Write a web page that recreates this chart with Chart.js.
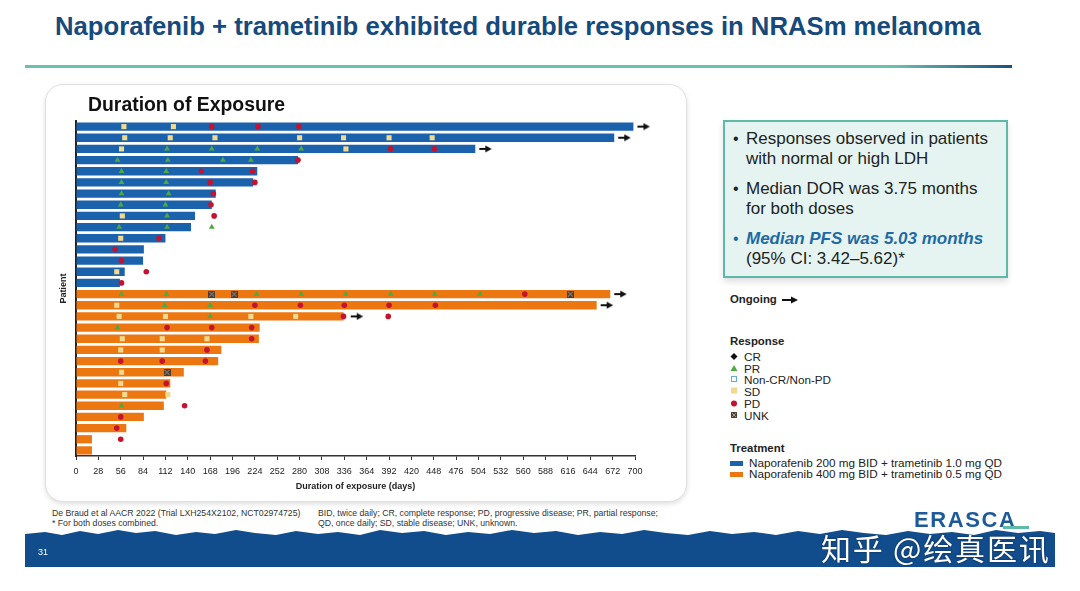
<!DOCTYPE html>
<html>
<head>
<meta charset="utf-8">
<script src="https://cdn.jsdelivr.net/npm/chart.js@4"></script>
<style>
body { margin: 0; background: #fff; font-family: "Liberation Sans", Arial, sans-serif; }
#slide { position: relative; width: 1080px; height: 591px; overflow: hidden; background: #fff; }
.abs { position: absolute; white-space: nowrap; }
#title { left: 55px; top: 12px; font-size: 25.7px; font-weight: bold; color: #174a7c; }
#rule { left: 25px; top: 65px; width: 987px; height: 3px; background: linear-gradient(to right, #6cc0b0 0%, #6cc0b0 88%, #1b4f80 100%); }
#card { left: 45px; top: 84px; width: 640px; height: 416px; border: 1px solid #e0e0e0; border-radius: 18px; box-shadow: 0 2px 5px rgba(0,0,0,0.13); background: #fff; }
#chartTitle { left: 88px; top: 93px; font-size: 19.4px; font-weight: bold; color: #111; }
#wrap { left: 45px; top: 85px; width: 641px; height: 415px; }
#callout { left: 723px; top: 120px; width: 281px; height: 154px; background: #e5f4f1; border: 2px solid #5fb9a9; box-shadow: 0 4px 6px rgba(0,0,0,0.12); }
.bl { position: absolute; left: 21px; font-size: 17px; line-height: 20px; color: #222; }
.dot { position: absolute; left: 8px; font-size: 16px; line-height: 20px; color: #222; }
.lg { font-size: 11.7px; color: #222; line-height: 11.7px; }
.lgh { font-size: 11.4px; font-weight: bold; color: #222; }
.note { font-size: 8.7px; color: #333; line-height: 10px; }
</style>
</head>
<body>
<div id="slide">
  <div id="title" class="abs">Naporafenib + trametinib exhibited durable responses in NRASm melanoma</div>
  <div id="rule" class="abs"></div>
  <div id="card" class="abs"></div>
  <div id="wrap" class="abs"><canvas id="chart" width="641" height="415"></canvas></div>
  <div id="chartTitle" class="abs">Duration of Exposure</div>

  <div id="callout" class="abs">
    <div class="dot" style="top:7px">•</div>
    <div class="bl" style="top:7px">Responses observed in patients<br>with normal or high LDH</div>
    <div class="dot" style="top:57px">•</div>
    <div class="bl" style="top:57px">Median DOR was 3.75 months<br>for both doses</div>
    <div class="dot" style="top:107px;color:#1f6aa5">•</div>
    <div class="bl" style="top:107px"><b style="color:#1f6aa5;font-style:italic">Median PFS was 5.03 months</b><br>(95% CI: 3.42–5.62)*</div>
  </div>

  <div class="abs lgh" style="left:730px;top:293px">Ongoing</div>
  <svg class="abs" style="left:782px;top:296px" width="16" height="8"><line x1="0" y1="4" x2="10" y2="4" stroke="#111" stroke-width="2"/><polygon points="9,0.5 16,4 9,7.5" fill="#111"/></svg>

  <div class="abs lgh" style="left:730px;top:335px">Response</div>
  <svg class="abs" style="left:730px;top:352px" width="12" height="70">
    <polygon points="4,1 7.5,4.5 4,8 0.5,4.5" fill="#111"/>
    <polygon points="4,13 7.5,19 0.5,19" fill="#4fa844"/>
    <rect x="1.5" y="24.5" width="5" height="5" fill="none" stroke="#6aa9d8" stroke-width="1"/>
    <rect x="1" y="35.5" width="6" height="6" fill="#f2d98f"/>
    <circle cx="4" cy="51.5" r="3" fill="#c4122f"/>
    <rect x="1" y="60" width="6" height="6" fill="#4a3b33"/>
    <path d="M1.8,60.8 L6.2,65.2 M6.2,60.8 L1.8,65.2" stroke="#b8a898" stroke-width="0.9"/>
  </svg>
  <div class="abs lg" style="left:744px;top:351px">CR<br>PR<br>Non-CR/Non-PD<br>SD<br>PD<br>UNK</div>

  <div class="abs lgh" style="left:730px;top:442px">Treatment</div>
  <div class="abs" style="left:730px;top:461px;width:13px;height:5px;background:#1a62ac"></div>
  <div class="abs" style="left:730px;top:472px;width:13px;height:5px;background:#ec7711"></div>
  <div class="abs lg" style="left:749px;top:457px;line-height:11px">Naporafenib 200 mg BID + trametinib 1.0 mg QD<br>Naporafenib 400 mg BID + trametinib 0.5 mg QD</div>

  <div class="abs note" style="left:52px;top:508px">De Braud et al AACR 2022 (Trial LXH254X2102, NCT02974725)<br>* For both doses combined.</div>
  <div class="abs note" style="left:318px;top:508px">BID, twice daily; CR, complete response; PD, progressive disease; PR, partial response;<br>QD, once daily; SD, stable disease; UNK, unknown.</div>

  <svg class="abs" style="left:0;top:0" width="1080" height="591">
    <polygon fill="#114c8c" points="25,567 25,534 45,532 62,535 80,531 98,534 118,530 136,533 155,531 176,535 196,532 215,534 236,530 255,533 276,535 296,531 318,534 338,532 360,535 380,530 402,533 424,531 446,535 468,532 490,534 512,530 534,533 556,531 578,535 600,532 622,534 644,530 666,533 688,535 710,531 732,534 754,532 776,535 798,531 820,534 842,530 864,533 886,535 908,531 930,534 952,532 974,535 996,530 1018,533 1040,531 1055,533 1055,567"/>
  </svg>
  <div class="abs" style="left:38px;top:547px;font-size:9px;color:#fff">31</div>
  <div class="abs" style="left:914px;top:507px;font-size:22px;font-weight:bold;color:#1d5a99;letter-spacing:1.6px">ERASCA</div>
  <div class="abs" style="left:1003px;top:526px;width:26px;height:2.5px;background:#5fb9a9"></div>
  <div class="abs" style="left:821px;top:525px;font-size:30px;letter-spacing:1.8px;color:#fff;font-family:'Noto Sans CJK SC',sans-serif;text-shadow:0 0 2px rgba(0,0,0,0.5)">知乎 @绘真医讯</div>
</div>

<script>
// patients top to bottom (1-15: 200 mg BID, 16-30: 400 mg BID)
var patients = ['1', '2', '3', '4', '5', '6', '7', '8', '9', '10', '11', '12', '13', '14', '15',
  '16', '17', '18', '19', '20', '21', '22', '23', '24', '25', '26', '27', '28', '29', '30']

// duration of exposure, days
var dose200Days = [698, 674, 500, 278, 227, 222, 175, 170, 149, 144, 112, 85, 84, 61, 55,
  null, null, null, null, null, null, null, null, null, null, null, null, null, null, null]
var dose400Days = [null, null, null, null, null, null, null, null, null, null, null, null, null, null, null,
  669, 652, 335, 230, 229, 182, 178, 135, 118, 113, 110, 85, 63, 20, 20]

// response assessments: [patient, day]
var prPoints = [[3, 114], [3, 170], [3, 227], [3, 282], [4, 52], [4, 115], [4, 184], [4, 219],
  [5, 57], [5, 113], [6, 57], [6, 113], [7, 57], [7, 116], [8, 56], [8, 112], [9, 114],
  [10, 54], [10, 114], [10, 170], [16, 57], [16, 113], [16, 226], [16, 282], [16, 338],
  [16, 394], [16, 449], [16, 506], [17, 111], [17, 168], [18, 168], [19, 52], [26, 57]]
var sdPoints = [[1, 60], [1, 122], [2, 61], [2, 118], [2, 174], [2, 280], [2, 335], [2, 392],
  [2, 446], [3, 57], [3, 338], [9, 58], [11, 56], [14, 51], [17, 51], [18, 54], [18, 112],
  [18, 219], [18, 275], [20, 58], [20, 108], [20, 164], [21, 56], [21, 108], [23, 57],
  [24, 56], [25, 61], [25, 115]]
var pdPoints = [[1, 170], [1, 228], [1, 279], [3, 394], [3, 449], [4, 278], [5, 157], [5, 221],
  [6, 168], [6, 224], [7, 172], [8, 169], [9, 173], [11, 104], [12, 49], [13, 57], [14, 88],
  [15, 57], [16, 562], [17, 224], [17, 281], [17, 336], [17, 392], [17, 450], [18, 335],
  [18, 391], [19, 114], [19, 170], [19, 220], [20, 220], [21, 164], [22, 56], [22, 108],
  [22, 162], [24, 113], [26, 136], [27, 56], [28, 51], [29, 56]]
var unkPoints = [[16, 170], [16, 198], [16, 619], [23, 114]]
// ongoing: [patient, last day on treatment]
var ongoingPoints = [[1, 698], [2, 674], [3, 500], [16, 669], [17, 652], [18, 339]]

function toPoints(list) {
  return list.map(function (p) { return { x: p[1], y: patients[p[0] - 1] } })
}

function unkMarker() {
  var c = document.createElement('canvas')
  c.width = 7; c.height = 7
  var g = c.getContext('2d')
  g.fillStyle = '#4a3b33'
  g.fillRect(0, 0, 7, 7)
  g.strokeStyle = '#b8a898'
  g.lineWidth = 0.9
  g.beginPath()
  g.moveTo(1, 1); g.lineTo(6, 6)
  g.moveTo(6, 1); g.lineTo(1, 6)
  g.stroke()
  return c
}

// arrow sits to the right of the point (image centred on the point)
function arrowMarker() {
  var c = document.createElement('canvas')
  c.width = 36; c.height = 8
  var g = c.getContext('2d')
  g.fillStyle = '#111'
  g.fillRect(22, 3, 8, 2)
  g.beginPath()
  g.moveTo(28, 0.5); g.lineTo(34.5, 4); g.lineTo(28, 7.5)
  g.closePath()
  g.fill()
  return c
}

var chartCanvas = document.getElementById('chart').getContext('2d')

new Chart(chartCanvas, {
  type: 'bar',
  data: {
    labels: patients,
    datasets: [
      { type: 'scatter', data: toPoints(ongoingPoints), pointStyle: arrowMarker(), clip: false, order: 0 },
      { type: 'scatter', data: toPoints(unkPoints), pointStyle: unkMarker(), order: 0 },
      { type: 'scatter', data: toPoints(pdPoints), pointStyle: 'circle', pointRadius: 2.8, backgroundColor: '#c4122f', borderWidth: 0, order: 0 },
      { type: 'scatter', data: toPoints(sdPoints), pointStyle: 'rect', pointRadius: 3.6, backgroundColor: '#f2d98f', borderWidth: 0, order: 0 },
      { type: 'scatter', data: toPoints(prPoints), pointStyle: 'triangle', pointRadius: 3.4, backgroundColor: '#4fa844', borderWidth: 0, order: 0 },
      { label: 'Naporafenib 200 mg BID + trametinib 1.0 mg QD', data: dose200Days, backgroundColor: '#1a62ac', grouped: false, barPercentage: 0.74, categoryPercentage: 1, order: 5 },
      { label: 'Naporafenib 400 mg BID + trametinib 0.5 mg QD', data: dose400Days, backgroundColor: '#ec7711', grouped: false, barPercentage: 0.74, categoryPercentage: 1, order: 5 }
    ]
  },
  options: {
    indexAxis: 'y',
    responsive: false,
    animation: false,
    events: [],
    layout: { padding: { left: 9, top: 36, right: 51, bottom: 4 } },
    plugins: { legend: { display: false }, tooltip: { enabled: false } },
    scales: {
      x: {
        type: 'linear', min: 0, max: 700,
        ticks: { stepSize: 28, autoSkip: false, maxRotation: 0, color: '#222', padding: 6,
          font: { size: 9, family: 'Liberation Sans' } },
        grid: { drawOnChartArea: false, drawTicks: true, tickLength: 4, color: '#333' },
        border: { display: true, color: '#333', width: 1.5 },
        title: { display: true, text: 'Duration of exposure (days)', color: '#222',
          font: { size: 9, weight: 'bold', family: 'Liberation Sans' }, padding: { top: 4, bottom: 4 } },
        afterFit: function (s) { s.height = 40 }
      },
      y: {
        type: 'category', offset: true,
        ticks: { display: false },
        grid: { display: false },
        border: { display: true, color: '#222', width: 2 },
        title: { display: true, text: 'Patient', color: '#222',
          font: { size: 9, weight: 'bold', family: 'Liberation Sans' } },
        afterFit: function (s) { s.width = 22 }
      }
    }
  }
})
</script>
</body>
</html>
